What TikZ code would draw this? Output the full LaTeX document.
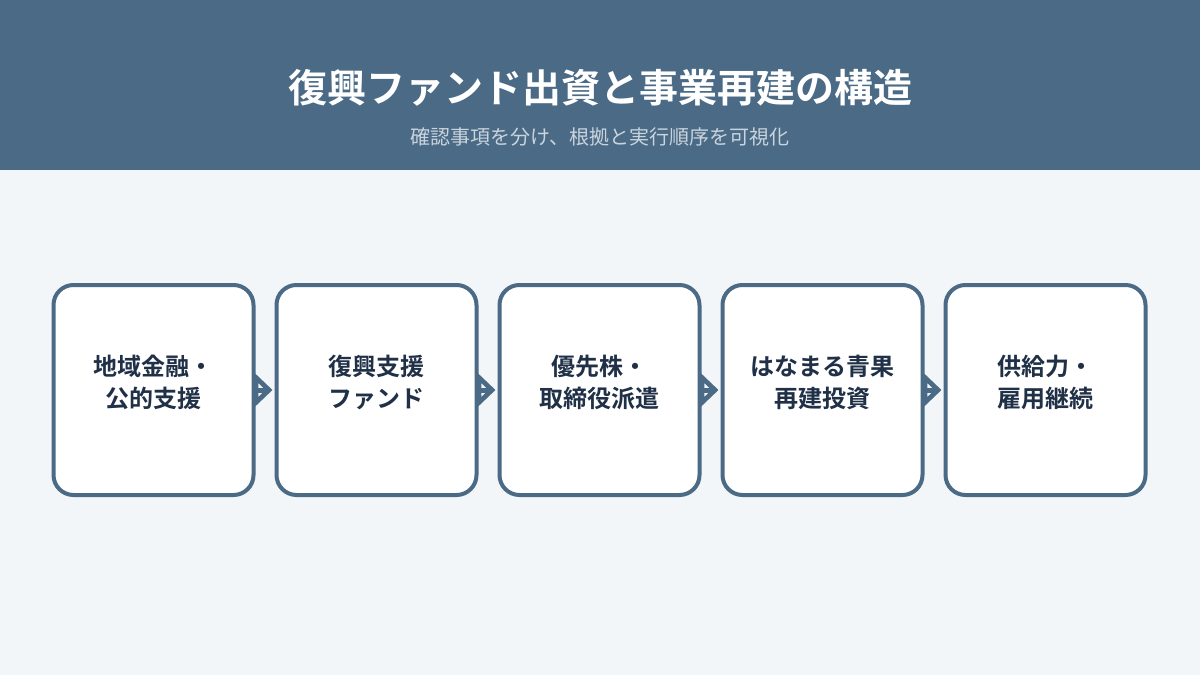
\documentclass[tikz,border=0pt]{standalone}
\usepackage{fontspec}
\setmainfont{Noto Sans CJK JP}
\newfontfamily\jpb{Noto Sans CJK JP Bold}
\usetikzlibrary{arrows.meta}
\definecolor{hdr}{HTML}{4A6A85}
\definecolor{bgc}{HTML}{F3F6F8}
\definecolor{sub}{HTML}{C9D4DE}
\definecolor{edge}{HTML}{4A6A85}
\definecolor{txt}{HTML}{1F3047}
\tikzset{
  stepbox/.style={draw=edge, line width=4pt, fill=white, rounded corners=20pt,
    minimum width=200pt, minimum height=210pt, inner sep=0pt},
  boxtext/.style={text=txt, align=center, font=\jpb\fontsize{24}{32}\selectfont},
  conn/.style={draw=edge, line width=4pt, -{Triangle[open,length=19pt,width=35pt,line width=5pt]}, shorten >=2pt},
  shaft/.style={draw=edge, line width=5pt, shorten >=6pt}
}
\begin{document}
\begin{tikzpicture}[x=1pt,y=-1pt]
\useasboundingbox (0,0) rectangle (1200,675);
\fill[bgc] (0,0) rectangle (1200,675);
\fill[hdr] (0,0) rectangle (1200,170);
\node[text=white, font=\jpb\fontsize{39}{42}\selectfont] (title) at (600,88) {復興ファンド出資と事業再建の構造};
\node[text=sub, font=\fontsize{20}{23}\selectfont] (subtitle) at (600,137) {確認事項を分け、根拠と実行順序を可視化};
\foreach \i/\x in {1/153.5,2/376.5,3/599.5,4/822.5,5/1045.5}{
  \node[stepbox] (b\i) at (\x,390) {};
}
\node[boxtext] (t1) at (153.5,382) {地域金融・\\公的支援};
\node[boxtext] (t2) at (376.5,382) {復興支援\\ファンド};
\node[boxtext] (t3) at (599.5,382) {優先株・\\取締役派遣};
\node[boxtext] (t4) at (822.5,382) {はなまる青果\\再建投資};
\node[boxtext] (t5) at (1045.5,382) {供給力・\\雇用継続};
\foreach \a/\b in {1/2,2/3,3/4,4/5}{
  \draw[conn] (b\a.east) -- (b\b.west);
  \draw[shaft] (b\a.east) -- (b\b.west);
}
\end{tikzpicture}
\end{document}
